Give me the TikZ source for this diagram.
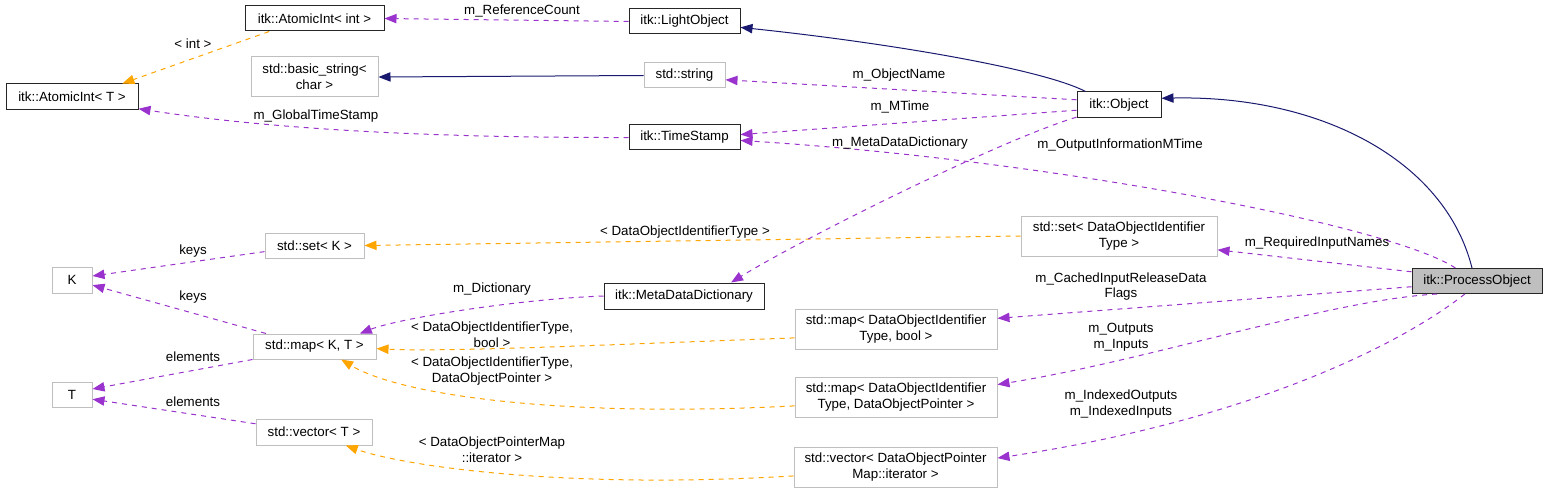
\documentclass[tikz,border=0pt]{standalone}
\usepackage{fontspec}
\setmainfont{Liberation Sans}
\usepackage{tikz}
\usetikzlibrary{arrows.meta}
\definecolor{usecol}{HTML}{9A32CD}
\definecolor{tplcol}{HTML}{FFA500}
\definecolor{inhcol}{HTML}{191970}
\definecolor{extgray}{HTML}{BFBFBF}
\tikzset{
  sz/.style 2 args={minimum width=#1*0.75pt, minimum height=#2*0.75pt},
  cls/.style={rectangle, draw=black!85, fill=white, line width=0.75pt, align=center,
              inner sep=1pt, font=\fontsize{10}{11.75}\selectfont},
  extcls/.style={cls, draw=extgray, line width=0.75pt},
  curcls/.style={cls, fill=extgray},
  lbl/.style={align=center, inner sep=0pt, font=\fontsize{10}{11.75}\selectfont},
  usedep/.style={-{Triangle[length=9pt,width=7pt]}, draw=usecol, line width=0.75pt,
                 dash pattern=on 3.75pt off 3.75pt},
  tpldep/.style={usedep, draw=tplcol},
  inhdep/.style={-{Triangle[length=9pt,width=7pt]}, draw=inhcol, line width=0.75pt}
}
\begin{document}
\begin{tikzpicture}[x=0.75pt, y=-0.75pt]
 \useasboundingbox (0,0) rectangle (1547,492);

 % classes
 \node[cls, sz={139}{25}] (aiInt) at (314.5,18.5) {itk::AtomicInt< int >};
 \node[cls, sz={111}{25}] (lObj) at (684.5,21.5) {itk::LightObject};
 \node[extcls, sz={127}{40}] (bStr) at (314.5,77) {std::basic\_string<\\char >};
 \node[extcls, sz={81}{25}] (str) at (684.5,75.5) {std::string};
 \node[cls, sz={132}{26}] (aiT) at (72,97) {itk::AtomicInt< T >};
 \node[cls, sz={111}{25}] (tStamp) at (684.5,137.5) {itk::TimeStamp};
 \node[cls, sz={84}{26}] (obj) at (1119,105) {itk::Object};
 \node[extcls, sz={99}{25}] (setK) at (314.5,245.5) {std::set< K >};
 \node[extcls, sz={40}{26}] (K) at (72,280) {K};
 \node[extcls, sz={196}{40}] (setDOIT) at (1119,236) {std::set< DataObjectIdentifier\\Type >};
 \node[cls, sz={160}{26}] (mdd) at (684,296) {itk::MetaDataDictionary};
 \node[extcls, sz={123}{25}] (mapKT) at (314.5,346.5) {std::map< K, T >};
 \node[curcls, sz={130}{25}] (po) at (1477,281) {itk::ProcessObject};
 \node[extcls, sz={202}{40}] (mapBool) at (896,329) {std::map< DataObjectIdentifier\\Type, bool >};
 \node[extcls, sz={40}{25}] (T) at (72,394.5) {T};
 \node[extcls, sz={202}{40}] (mapPtr) at (896,397) {std::map< DataObjectIdentifier\\Type, DataObjectPointer >};
 \node[extcls, sz={116}{26}] (vecT) at (314,432) {std::vector< T >};
 \node[extcls, sz={203}{40}] (vecPtr) at (895.5,467) {std::vector< DataObjectPointer\\Map::iterator >};

 % inheritance
 \draw[inhdep] (str.west) -- (bStr.east);
 \draw[inhdep] (obj.158) .. controls (1040,68) and (880,42) .. (lObj.-6);
 \draw[inhdep] (po.111) .. controls (1445,160) and (1320,95) .. (obj.9);

 % templates
 \draw[tpldep] (aiInt.196) -- (aiT.15);
 \draw[tpldep] (setDOIT.west) -- (setK.east);
 \draw[tpldep] (mapBool.185) .. controls (600,345) and (450,352) .. (mapKT.-2);
 \draw[tpldep] (mapPtr.185) .. controls (560,418) and (400,395) .. (mapKT.-26);
 \draw[tpldep] (vecPtr.185) .. controls (560,490) and (400,465) .. (vecT.-23);

 % members
 \draw[usedep] (lObj.west) -- (aiInt.east);
 \draw[usedep] (tStamp.west) .. controls (400,138) and (250,126) .. (aiT.-10);
 \draw[usedep] (obj.173) -- (str.-6);
 \draw[usedep] (obj.187) -- (tStamp.3);
 \draw[usedep] (obj.196) .. controls (1000,140) and (800,240) .. (mdd.16);
 \draw[usedep] (po.149) .. controls (1390,225) and (1050,160) .. (tStamp.-3);
 \draw[usedep] (setK.187) -- (K.11);
 \draw[usedep] (mapKT.165) -- (K.-14);
 \draw[usedep] (mdd.west) .. controls (520,299) and (400,318) .. (mapKT.16);
 \draw[usedep] (mapKT.south west) -- (T.15);
 \draw[usedep] (vecT.172) -- (T.-13);
 \draw[usedep] (po.172) -- (setDOIT.-8);
 \draw[usedep] (po.185) -- (mapBool.6);
 \draw[usedep] (po.198) .. controls (1330,300) and (1150,360) .. (mapPtr.7);
 \draw[usedep] (po.227) .. controls (1400,345) and (1250,420) .. (vecPtr.5);

 % labels
 \node[lbl] (lRef) at (522,11) {m\_ReferenceCount};
 \node[lbl] (lInt) at (193,44) {< int >};
 \node[lbl] (lGTS) at (316,116) {m\_GlobalTimeStamp};
 \node[lbl] (lName) at (899,75) {m\_ObjectName};
 \node[lbl] (lMTime) at (900,107) {m\_MTime};
 \node[lbl] (lMDD) at (900,143) {m\_MetaDataDictionary};
 \node[lbl] (lOIM) at (1120,145) {m\_OutputInformationMTime};
 \node[lbl] (lDOIT) at (685,232) {< DataObjectIdentifierType >};
 \node[lbl] (lKeysA) at (193,251) {keys};
 \node[lbl] (lKeysB) at (193,297) {keys};
 \node[lbl] (lDict) at (492,289) {m\_Dictionary};
 \node[lbl] (lElemA) at (193,357) {elements};
 \node[lbl] (lElemB) at (193,402) {elements};
 \node[lbl] (lBool) at (492,335) {< DataObjectIdentifierType,\\bool >};
 \node[lbl] (lPtr) at (492,371) {< DataObjectIdentifierType,\\DataObjectPointer >};
 \node[lbl] (lIter) at (492,450) {< DataObjectPointerMap\\::iterator >};
 \node[lbl] (lReq) at (1317,243) {m\_RequiredInputNames};
 \node[lbl] (lCache) at (1121,286.5) {m\_CachedInputReleaseData\\Flags};
 \node[lbl] (lIO) at (1121,337) {m\_Outputs\\m\_Inputs};
 \node[lbl] (lIdx) at (1121,404) {m\_IndexedOutputs\\m\_IndexedInputs};
\end{tikzpicture}
\end{document}
